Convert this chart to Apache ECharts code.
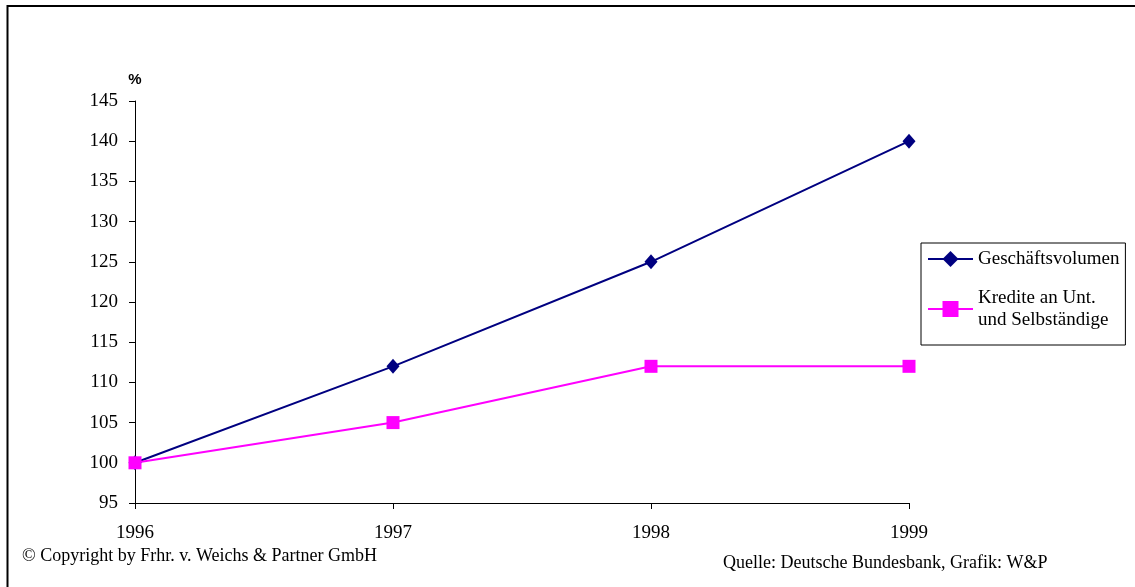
<!DOCTYPE html>
<html>
<head>
<meta charset="utf-8">
<script src="https://cdn.jsdelivr.net/npm/echarts@6/dist/echarts.min.js"></script>
<style>
  html, body { margin: 0; padding: 0; background: #fff; }
  #chart { width: 1135px; height: 587px; }
</style>
</head>
<body>
<div id="chart"></div>
<script>
// Jahre und Indexwerte (1996 = 100)
const years = ['1996', '1997', '1998', '1999'];
const geschaeftsvolumen = [100, 112, 125, 140];
const kredite = [100, 105, 112, 112];

const seriesNames = ['Geschäftsvolumen', 'Kredite an Unt. und Selbständige'];
const legendLabels = ['Geschäftsvolumen', 'Kredite an Unt.\nund Selbständige'];

const serif = '"Liberation Serif", "Times New Roman", serif';

const chart = echarts.init(document.getElementById('chart'), null, { renderer: 'canvas' });

chart.setOption({
  backgroundColor: '#fff',
  animation: false,
  grid: { left: 135, right: 226, top: 101, bottom: 84 },
  xAxis: {
    type: 'category',
    data: years,
    boundaryGap: false,
    axisLine: { show: true, lineStyle: { color: '#000', width: 1 } },
    axisTick: { show: true, length: 6, lineStyle: { color: '#000' } },
    axisLabel: { color: '#000', fontFamily: serif, fontSize: 19, margin: 21 },
    splitLine: { show: false }
  },
  yAxis: {
    type: 'value',
    min: 95,
    max: 145,
    interval: 5,
    name: '%',
    nameLocation: 'end',
    nameGap: 14,
    nameTextStyle: {
      color: '#000', fontFamily: '"Liberation Sans", Arial, sans-serif',
      fontWeight: 'bold', fontSize: 15, align: 'center'
    },
    axisLine: { show: true, lineStyle: { color: '#000', width: 1 } },
    axisTick: { show: true, length: 6, lineStyle: { color: '#000' } },
    axisLabel: { color: '#000', fontFamily: serif, fontSize: 19, margin: 17 },
    splitLine: { show: false }
  },
  legend: {
    orient: 'vertical',
    left: 921,
    top: 243,
    padding: [5, 6, 3, 6],
    itemGap: 6,
    itemWidth: 45,
    itemHeight: 20,
    borderColor: '#000',
    borderWidth: 1,
    backgroundColor: '#fff',
    textStyle: { color: '#000', fontFamily: serif, fontSize: 19, lineHeight: 22 },
    formatter: name => legendLabels[seriesNames.indexOf(name)],
    data: [
      { name: seriesNames[0] },
      { name: seriesNames[1], textStyle: { padding: [22, 0, 0, 0] } }
    ]
  },
  series: [
    {
      name: seriesNames[0],
      type: 'line',
      data: geschaeftsvolumen,
      symbol: 'diamond',
      symbolSize: [13, 15],
      itemStyle: { color: '#000080' },
      lineStyle: { color: '#000080', width: 2 }
    },
    {
      name: seriesNames[1],
      type: 'line',
      data: kredite,
      symbol: 'rect',
      symbolSize: 13,
      itemStyle: { color: '#ff00ff' },
      lineStyle: { color: '#ff00ff', width: 2 }
    }
  ],
  graphic: [
    {
      type: 'polyline',
      shape: { points: [[7.5, 587], [7.5, 6], [1135, 6]] },
      style: { stroke: '#000', lineWidth: 2, fill: null },
      silent: true
    },
    {
      type: 'text',
      left: 22,
      top: 547,
      style: { text: '© Copyright by Frhr. v. Weichs & Partner GmbH', fill: '#000', font: '18px ' + serif }
    },
    {
      type: 'text',
      left: 723,
      top: 554,
      style: { text: 'Quelle: Deutsche Bundesbank, Grafik: W&P', fill: '#000', font: '18px ' + serif }
    }
  ]
});
</script>
</body>
</html>
